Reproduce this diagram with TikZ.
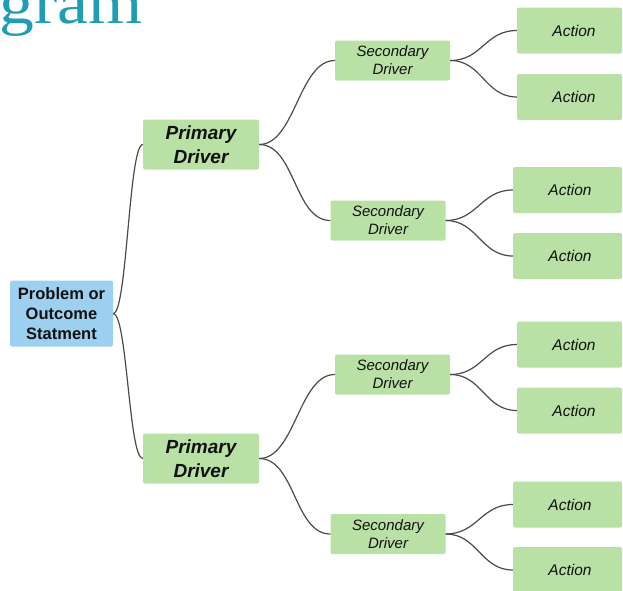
\documentclass[tikz,border=0pt]{standalone}
\usepackage{fontspec}
\setmainfont{Liberation Sans}
\newfontfamily\titlefont{Liberation Serif}
\definecolor{boxgreen}{HTML}{B9E0A5}
\definecolor{boxblue}{HTML}{9DCFF0}
\definecolor{linegray}{HTML}{4A4A4A}
\definecolor{titleteal}{HTML}{1E9DB3}
\definecolor{txt}{HTML}{111111}
\begin{document}
\begin{tikzpicture}[x=1pt,y=-1pt,
  box/.style={rounded corners=2pt, inner sep=0pt, align=center, text=txt},
  probbox/.style={box, fill=boxblue, font=\bfseries\fontsize{16.5}{20}\selectfont, minimum width=103pt, minimum height=66pt},
  primbox/.style={box, fill=boxgreen, font=\bfseries\itshape\fontsize{19}{23.5}\selectfont, minimum width=116pt, minimum height=50pt},
  secbox/.style={box, fill=boxgreen, font=\itshape\fontsize{15}{18}\selectfont, minimum width=115pt, minimum height=40pt},
  actbox/.style={box, fill=boxgreen, font=\itshape\fontsize{15.5}{18}\selectfont, minimum height=46pt},
  conn/.style={draw=linegray, line width=1.2pt}
]
\useasboundingbox (0,0) rectangle (623,590);

\node (title) [anchor=base east, inner sep=0pt, text=titleteal, font=\titlefont\fontsize{60}{60}\selectfont] at (143,23) {\scalebox{1.16}[1]{gram}};

\node (P) [probbox] at (61.5,313.5) {Problem or\\Outcome\\Statment};

\node (D1) [primbox] at (201,144.5) {Primary\\Driver};
\node (D2) [primbox] at (201,458.5) {Primary\\Driver};

\node (S1) [secbox] at (392.5,60.5) {Secondary\\Driver};
\node (S2) [secbox] at (388,220.5) {Secondary\\Driver};
\node (S3) [secbox] at (392.5,374.5) {Secondary\\Driver};
\node (S4) [secbox] at (388,534) {Secondary\\Driver};

\node (A1) [actbox, minimum width=105pt] at (569.5,30.5) {\hspace*{9pt}Action};
\node (A2) [actbox, minimum width=105pt] at (569.5,97) {\hspace*{9pt}Action};
\node (A3) [actbox, minimum width=109pt] at (567.5,190) {\hspace*{5pt}Action};
\node (A4) [actbox, minimum width=109pt] at (567.5,256) {\hspace*{5pt}Action};
\node (A5) [actbox, minimum width=105pt] at (569.5,344.5) {\hspace*{9pt}Action};
\node (A6) [actbox, minimum width=105pt] at (569.5,410.5) {\hspace*{9pt}Action};
\node (A7) [actbox, minimum width=109pt] at (567.5,504.5) {\hspace*{5pt}Action};
\node (A8) [actbox, minimum width=109pt] at (567.5,570) {\hspace*{5pt}Action};

\draw[conn] (P.east) .. controls +(14,0) and +(-14,0) .. (D1.west);
\draw[conn] (P.east) .. controls +(14,0) and +(-14,0) .. (D2.west);

\draw[conn] (D1.east) .. controls +(36,0) and +(-36,0) .. (S1.west);
\draw[conn] (D1.east) .. controls +(36,0) and +(-36,0) .. (S2.west);
\draw[conn] (D2.east) .. controls +(36,0) and +(-36,0) .. (S3.west);
\draw[conn] (D2.east) .. controls +(36,0) and +(-36,0) .. (S4.west);

\draw[conn] (S1.east) .. controls +(32,0) and +(-32,0) .. (A1.west);
\draw[conn] (S1.east) .. controls +(32,0) and +(-32,0) .. (A2.west);
\draw[conn] (S2.east) .. controls +(32,0) and +(-32,0) .. (A3.west);
\draw[conn] (S2.east) .. controls +(32,0) and +(-32,0) .. (A4.west);
\draw[conn] (S3.east) .. controls +(32,0) and +(-32,0) .. (A5.west);
\draw[conn] (S3.east) .. controls +(32,0) and +(-32,0) .. (A6.west);
\draw[conn] (S4.east) .. controls +(32,0) and +(-32,0) .. (A7.west);
\draw[conn] (S4.east) .. controls +(32,0) and +(-32,0) .. (A8.west);
\end{tikzpicture}
\end{document}
